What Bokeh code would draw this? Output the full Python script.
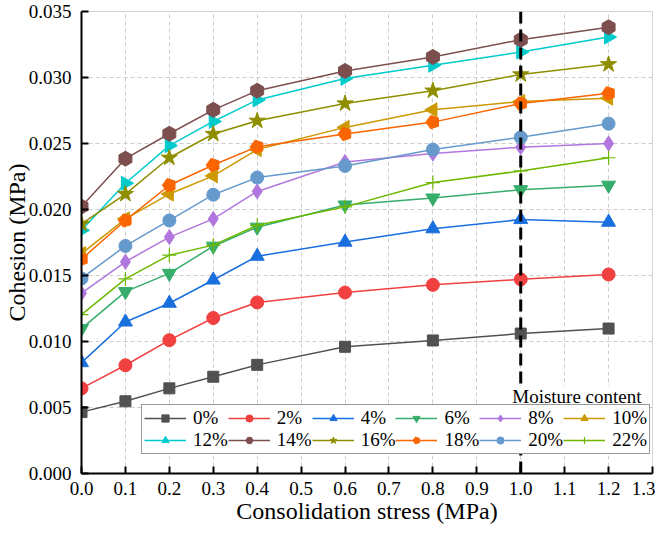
import math
from bokeh.plotting import figure
from bokeh.models import (Range1d, FixedTicker, PrintfTickFormatter, Span, Label,
                          Legend, LegendItem)
from bokeh.embed import file_html
from bokeh.resources import INLINE

# ---- data ----
stress = [0.0, 0.1, 0.2, 0.3, 0.4, 0.6, 0.8, 1.0, 1.2]
c0 = [0.00465, 0.00547, 0.00645, 0.00733, 0.00823, 0.00960, 0.01008, 0.01060, 0.01098]
c2 = [0.00645, 0.00820, 0.01010, 0.01178, 0.01296, 0.01371, 0.01429, 0.01471, 0.01508]
c4 = [0.00840, 0.01148, 0.01290, 0.01466, 0.01646, 0.01753, 0.01854, 0.01924, 0.01904]
c6 = [0.01098, 0.01378, 0.01516, 0.01722, 0.01866, 0.02034, 0.02087, 0.02150, 0.02184]
c8 = [0.01366, 0.01604, 0.01791, 0.01929, 0.02137, 0.02360, 0.02424, 0.02472, 0.02500]
c10 = [0.01666, 0.01929, 0.02117, 0.02255, 0.02454, 0.02622, 0.02755, 0.02818, 0.02843]
c12 = [0.01842, 0.02199, 0.02484, 0.02667, 0.02830, 0.02993, 0.03093, 0.03193, 0.03306]
c14 = [0.02022, 0.02385, 0.02574, 0.02755, 0.02900, 0.03050, 0.03156, 0.03286, 0.03381]
c16 = [0.01891, 0.02117, 0.02392, 0.02572, 0.02672, 0.02803, 0.02900, 0.03023, 0.03100]
c18 = [0.01624, 0.01917, 0.02184, 0.02337, 0.02475, 0.02572, 0.02662, 0.02803, 0.02880]
c20 = [0.01478, 0.01724, 0.01917, 0.02112, 0.02242, 0.02330, 0.02454, 0.02547, 0.02650]
c22 = [0.01203, 0.01474, 0.01654, 0.01730, 0.01880, 0.02020, 0.02204, 0.02292, 0.02392]

labels = ["0%", "2%", "4%", "6%", "8%", "10%", "12%", "14%", "16%", "18%", "20%", "22%"]
series = [c0, c2, c4, c6, c8, c10, c12, c14, c16, c18, c20, c22]

x_ticks = [0.0, 0.1, 0.2, 0.3, 0.4, 0.5, 0.6, 0.7, 0.8, 0.9, 1.0, 1.1, 1.2, 1.3]
y_ticks = [0.000, 0.005, 0.010, 0.015, 0.020, 0.025, 0.030, 0.035]
marker_line_x = 1.0

# ---- styles ----
colors = ["#515151", "#F14040", "#1A6FDF", "#37AD6B", "#B177DE", "#CC9900",
          "#00CBCC", "#7D4E4E", "#8E8E00", "#FB6501", "#6699CC", "#6FB802"]
markers = ["square", "circle", "triangle", "inverted_triangle", "diamond", "triangle",
           "triangle", "hex", "star", "pentagon", "circle", "cross"]
angles = [0, 0, 0, 0, 0, math.pi / 2, -math.pi / 2, math.pi / 6, 0, 0, 0, 0]
sizes = [11, 13, 14, 14, 15, 14, 14, 15, 17, 7, 13, 14]

FONT = "Liberation Serif"

p = figure(width=655, height=526, output_backend="svg", toolbar_location=None,
           x_range=Range1d(0, 1.3), y_range=Range1d(0, 0.035),
           min_border_left=74, min_border_right=3, min_border_top=11, min_border_bottom=0,
           background_fill_color="white", border_fill_color="white")

p.outline_line_color = "#d4d4d4"
p.outline_line_width = 1

for ax, ticks, fmt in ((p.xaxis[0], x_ticks, "%.1f"), (p.yaxis[0], y_ticks, "%.3f")):
    ax.ticker = FixedTicker(ticks=ticks)
    ax.formatter = PrintfTickFormatter(format=fmt)
    ax.axis_line_width = 2
    ax.axis_line_color = "black"
    ax.major_tick_in = 7
    ax.major_tick_out = 0
    ax.major_tick_line_width = 2
    ax.minor_tick_in = 0
    ax.minor_tick_out = 0
    ax.major_label_text_font = FONT
    ax.major_label_text_font_size = "19px"
    ax.major_label_text_color = "black"
    ax.axis_label_text_font = FONT
    ax.axis_label_text_font_size = "24px"
    ax.axis_label_text_font_style = "normal"
    ax.axis_label_text_color = "black"

p.xaxis.axis_label = "Consolidation stress (MPa)"
p.yaxis.axis_label = "Cohesion (MPa)"
p.xaxis.major_label_standoff = 8
p.xaxis.axis_label_standoff = 0
p.yaxis.major_label_standoff = 10
p.yaxis.axis_label_standoff = -4

for g in (p.xgrid[0], p.ygrid[0]):
    g.grid_line_color = "#cccccc"
    g.grid_line_dash = "4 3"
    g.grid_line_width = 1
p.xgrid.ticker = FixedTicker(ticks=x_ticks)
p.ygrid.ticker = FixedTicker(ticks=y_ticks)

items = []
for lab, vals, col, mk, ang, sz in zip(labels, series, colors, markers, angles, sizes):
    rl = p.line(stress, vals, line_color=col, line_width=1.5)
    if mk == "pentagon":
        rm = p.ngon(x=stress, y=vals, radius=sz, radius_units="screen", n=5,
                    angle=math.pi / 2, fill_color=col, line_color=col)
    elif mk == "cross":
        rm = p.scatter(stress, vals, marker=mk, size=sz, line_color=col, line_width=1.2)
    else:
        rm = p.scatter(stress, vals, marker=mk, size=sz, angle=ang,
                       fill_color=col, line_color=col)
    items.append(LegendItem(label=lab, renderers=[rl, rm]))

span = Span(location=marker_line_x, dimension="height", line_color="black",
            line_width=3, line_dash="12 6")
p.add_layout(span)

p.add_layout(Label(x=1.275, y=0.0058, text="Moisture content", text_align="right",
                   text_baseline="alphabetic", text_font=FONT, text_font_size="19px",
                   text_color="black", background_fill_color="white"))

legend = Legend(items=items, location=(60, 19), orientation="horizontal", ncols=6,
                label_text_font=FONT, label_text_font_size="19px", label_text_color="black",
                glyph_width=42, glyph_height=18, label_height=18, label_standoff=7,
                spacing=0, padding=2, margin=0,
                border_line_color="#333333", border_line_width=1.5,
                background_fill_color="white", background_fill_alpha=1.0)
p.add_layout(legend)

open("out.html", "w").write(file_html(p, INLINE))
